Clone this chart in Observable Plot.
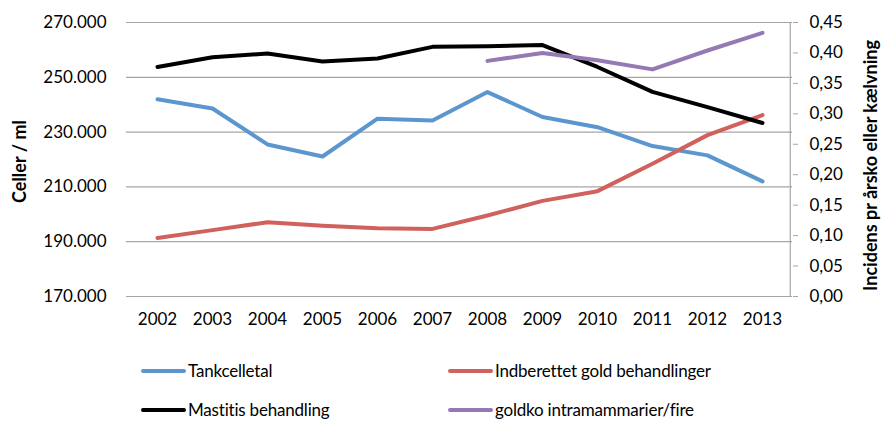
<!DOCTYPE html>
<html><head><meta charset="utf-8">
<script src="https://cdn.jsdelivr.net/npm/d3@7"></script>
<script src="https://cdn.jsdelivr.net/npm/@observablehq/plot@0.6"></script>
<style>
body{margin:0;background:#fff;font-family:Lato,"Open Sans",sans-serif;}
#wrap{position:relative;width:881px;height:421px;overflow:hidden;}
.leg{position:absolute;font-size:17px;color:#000;display:flex;align-items:center;white-space:nowrap;letter-spacing:-0.2px}
.sw{display:inline-block;width:45px;height:4px;border-radius:2px;margin-right:2px}
</style></head>
<body><div id="wrap"></div>
<script>
const years = ["2002","2003","2004","2005","2006","2007","2008","2009","2010","2011","2012","2013"];
const tankcelletal = [242000,238600,225500,221100,234900,234200,244600,235500,231800,224900,221500,212000];
const indberettet = [0.096,0.109,0.122,0.116,0.112,0.111,0.133,0.157,0.173,0.218,0.265,0.298];
const mastitis = [0.377,0.393,0.399,0.386,0.391,0.410,0.411,0.413,0.377,0.336,0.311,0.285];
const goldkoYears = ["2008","2009","2010","2011","2012","2013"];
const goldko = [0.387,0.400,0.388,0.373,0.404,0.433];
const leftTicks = [170000,190000,210000,230000,250000,270000];
const rightTicks = [0,0.05,0.10,0.15,0.20,0.25,0.30,0.35,0.40,0.45];
const seriesNames = ["Tankcelletal","Indberettet gold behandlinger","Mastitis behandling","goldko intramammarier/fire"];
const colors = ["#5b96cf","#d0615c","#000000","#9479b5"];

const loc = d3.formatLocale({decimal:",",thousands:".",grouping:[3],currency:["","kr"]});
const fLeft = loc.format(",.0f");
const fRight = loc.format(".2f");
const L0 = 170000, L1 = 270000, R1 = 0.45;
const toLeft = v => L0 + v / R1 * (L1 - L0);
const fromLeft = y => (y - L0) / (L1 - L0) * R1;

const rows = [];
years.forEach((y,i)=>rows.push({s:seriesNames[0],x:y,y:tankcelletal[i]}));
years.forEach((y,i)=>rows.push({s:seriesNames[1],x:y,y:toLeft(indberettet[i])}));
years.forEach((y,i)=>rows.push({s:seriesNames[2],x:y,y:toLeft(mastitis[i])}));
goldkoYears.forEach((y,i)=>rows.push({s:seriesNames[3],x:y,y:toLeft(goldko[i])}));

const chart = Plot.plot({
  width: 881, height: 340,
  marginLeft: 126, marginRight: 89, marginTop: 22, marginBottom: 44,
  style: {fontFamily: "Lato, 'Open Sans', sans-serif", fontSize: "17px", color: "#000", background: "#fff"},
  x: {type: "point", domain: years, padding: 0.5},
  y: {domain: [L0, L1]},
  color: {domain: seriesNames, range: colors},
  marks: [
    Plot.gridY(leftTicks, {stroke: "#a6a6a6", strokeOpacity: 1, strokeWidth: 1.2}),
    Plot.axisY(leftTicks, {anchor: "left", tickSize: 0, tickPadding: 20, tickFormat: fLeft, fontSize: 17, label: null}),
    Plot.ruleX([years[years.length-1]], {y1: L0, y2: L1, dx: 27.75, stroke: "#a6a6a6", strokeWidth: 1.2}),
    Plot.axisY(rightTicks.map(toLeft), {anchor: "right", tickSize: 5, tickPadding: 12, stroke: "#a6a6a6", tickFormat: d => fRight(fromLeft(d)), fontSize: 17, label: null}),
    Plot.axisX({tickSize: 0, tickPadding: 16, fontSize: 17, label: null}),
    Plot.lineY(rows, {x: "x", y: "y", z: "s", stroke: "s", strokeWidth: 4, strokeLinejoin: "round", strokeLinecap: "round"}),
    Plot.text(["Celler / ml"], {frameAnchor: "left", textAnchor: "middle", dx: -106, dy: 2, rotate: -90, fontWeight: "bold", fontSize: 18}),
    Plot.text(["Incidens pr årsko eller kælvning"], {frameAnchor: "right", textAnchor: "middle", dx: 79, dy: 6, rotate: -90, fontWeight: "bold", fontSize: 18})
  ]
});
const wrap = document.getElementById("wrap");
wrap.appendChild(chart);
const legPos = [[141,372],[448,372],[141,411],[448,411]];
seriesNames.forEach((n,i)=>{
  const d = document.createElement("div");
  d.className = "leg";
  d.style.left = legPos[i][0] + "px";
  d.style.top = (legPos[i][1] - 12) + "px";
  d.innerHTML = `<span class="sw" style="background:${colors[i]}"></span><span></span>`;
  d.lastChild.textContent = n;
  wrap.appendChild(d);
});
</script></body></html>
